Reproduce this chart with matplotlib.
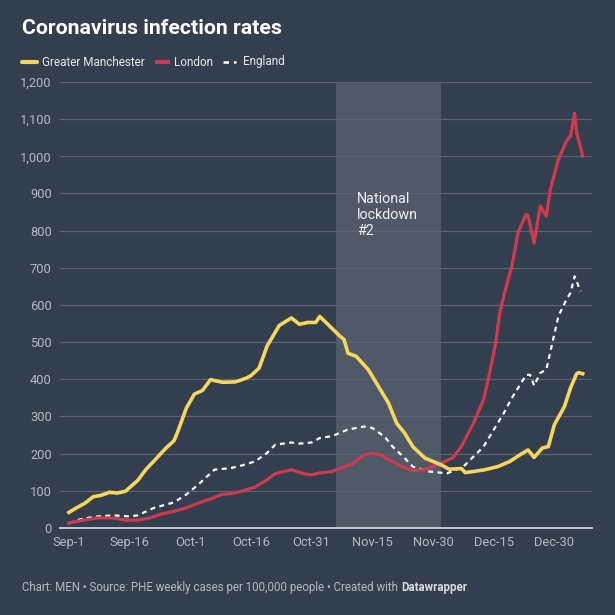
import matplotlib
matplotlib.use("Agg")
import matplotlib.pyplot as plt
import numpy as np
import pandas as pd

plt.rcParams["font.family"] = ["Roboto", "DejaVu Sans"]

START = pd.Timestamp("2020-09-01")

# weekly cases per 100,000 people (day offset from Sep 1)
gm_days = [0, 2, 4, 6, 8, 10, 12, 14, 17, 19, 21, 24, 26, 27, 29, 31, 33, 35, 38, 41,
           42, 44, 45, 47, 49, 52, 55, 57, 59, 61, 62, 64, 67, 68, 69, 71, 74, 75, 79, 81,
           83, 85, 88, 92, 94, 97, 98, 102.5, 106, 109, 111.5, 113.5, 115, 117, 118.5,
           120, 122.5, 124, 125.5, 126, 127]
gm_vals = [42, 55, 67, 84, 88, 96, 94, 99, 128, 157, 180, 215, 235, 262, 322, 360, 370,
           399, 392, 393, 396, 404, 410, 430, 490, 545, 565, 548, 553, 553, 569, 548, 516,
           507, 470, 462, 426, 408, 336, 282, 255, 219, 188, 170, 158, 160, 149, 156, 165,
           179, 197, 210, 190, 215, 219, 278, 327, 377, 415, 418, 415]

ldn_days = [0, 3, 7, 11, 14, 17, 20, 23, 26, 29, 32, 35, 38, 40, 43, 46, 49, 51, 54, 55,
            58, 60, 62, 65, 67, 70, 73, 75, 77, 80, 82, 85, 88, 92, 95, 97, 100, 102.5,
            104, 105.5, 106.5, 108, 109.5, 111, 113, 113.5, 115, 116.5, 118, 119, 121,
            123, 124, 125, 125.5, 127]
ldn_vals = [13, 20, 27, 27, 21, 21, 27, 38, 45, 54, 67, 78, 91, 92, 100, 110, 130, 146,
            154, 157, 146, 143, 148, 152, 160, 172, 197, 201, 197, 179, 167, 154, 157, 174,
            190, 219, 282, 345, 417, 498, 579, 646, 704, 794, 844, 840, 767, 866, 839, 911,
            992, 1041, 1055, 1116, 1064, 1001]

eng_days = [0, 3, 7, 11, 15, 17, 21, 26, 29, 32, 36, 40, 43, 46, 49, 51, 55, 57, 60, 62,
            65, 69, 73, 75, 78, 80, 83, 85, 89, 93.5, 97.5, 100, 102.5, 105, 107.5, 109.5,
            111.5, 113, 114, 115, 116.5, 118, 119.5, 121, 123, 124, 125, 126.5]
eng_vals = [13, 24, 31, 34, 31, 34, 54, 69, 90, 117, 157, 161, 169, 179, 202, 224, 230,
            227, 230, 242, 247, 265, 273, 269, 246, 219, 188, 165, 152, 147, 165, 192, 219,
            264, 309, 350, 385, 412, 412, 383, 417, 426, 498, 570, 615, 633, 677, 637]

lockdown = ["2020-11-06", "2020-12-02"]
lockdown_label = "National\nlockdown\n#2"

tick_dates = ["2020-09-01", "2020-09-16", "2020-10-01", "2020-10-16", "2020-10-31",
              "2020-11-15", "2020-11-30", "2020-12-15", "2020-12-30"]
tick_labels = ["Sep-1", "Sep-16", "Oct-1", "Oct-16", "Oct-31", "Nov-15", "Nov-30",
               "Dec-15", "Dec-30"]

BG = "#333e4e"
GRID = "#596372"
LABEL = "#b4bac2"
YELLOW = "#f6d75c"
RED = "#cf3a4f"


def to_dates(days):
    return START + pd.to_timedelta(days, unit="D")


fig = plt.figure(figsize=(6.15, 6.15), dpi=100, facecolor=BG)
ax = fig.add_axes([0.0976, 0.1415, 0.865, 0.7252])
ax.set_facecolor(BG)

ax.axvspan(pd.Timestamp(lockdown[0]), pd.Timestamp(lockdown[1]),
           color="#4f5968", zorder=0, lw=0)
ax.text(pd.Timestamp(lockdown[0]) + pd.Timedelta(days=5.3), 903, lockdown_label,
        color="#eef0f2", fontsize=10.3, va="top", ha="left", linespacing=1.15)

ax.plot(to_dates(eng_days), eng_vals, color="white", lw=1.6,
        dashes=(2.2, 2.0), zorder=3)
ax.plot(to_dates(ldn_days), ldn_vals, color=RED, lw=2.3, zorder=4,
        solid_joinstyle="round")
ax.plot(to_dates(gm_days), gm_vals, color=YELLOW, lw=2.6, zorder=5,
        solid_joinstyle="round")

ax.set_ylim(0, 1200)
ax.set_xlim(START - pd.Timedelta(days=2.2), START + pd.Timedelta(days=129.3))
ax.set_yticks(np.arange(0, 1201, 100))
ax.set_yticklabels([f"{v:,}" for v in range(0, 1201, 100)])
ax.yaxis.grid(True, color=GRID, lw=0.9)
ax.set_axisbelow(True)
ax.set_xticks([pd.Timestamp(d) for d in tick_dates])
ax.set_xticklabels(tick_labels)
ax.tick_params(axis="both", length=0, colors=LABEL, labelsize=9.3)
ax.tick_params(axis="y", pad=6)
ax.tick_params(axis="x", pad=6)
for s in ["top", "right", "left"]:
    ax.spines[s].set_visible(False)
ax.spines["bottom"].set_color("#c3c8cf")
ax.spines["bottom"].set_linewidth(1.4)
ax.spines["bottom"].set_zorder(6)

fig.text(22 / 615, 1 - 29 / 615, "Coronavirus infection rates", color="white",
         fontsize=15.3, fontweight="bold", va="center", ha="left")

# legend
ly = 1 - 62 / 615
fig.add_artist(plt.Line2D([22 / 615, 37 / 615], [ly, ly], color=YELLOW, lw=3,
                          solid_capstyle="round"))
fig.text(42 / 615, ly, "Greater Manchester", color="#e6e8eb", fontsize=8.5, va="center")
fig.add_artist(plt.Line2D([155 / 615, 170 / 615], [ly, ly], color=RED, lw=3,
                          solid_capstyle="butt"))
fig.text(174 / 615, ly, "London", color="#e6e8eb", fontsize=8.5, va="center")
fig.add_artist(plt.Line2D([223 / 615, 236 / 615], [ly, ly], color="white", lw=1.8,
                          dashes=(2.2, 2.0)))
fig.text(243 / 615, ly, "England", color="#e6e8eb", fontsize=8.5, va="center")

# footer
fy = 1 - 587 / 615
t1 = fig.text(22 / 615, fy, "Chart: MEN \u2022 Source: PHE weekly cases per 100,000 people \u2022 Created with ",
              color="#b4bac2", fontsize=8.3, va="center")
fig.canvas.draw()
bb = t1.get_window_extent()
fig.text(bb.x1 / fig.bbox.width, fy, "Datawrapper", color="#d8dce0", fontsize=8.3,
         fontweight="bold", va="center")

fig.savefig("out.png", dpi=100, facecolor=BG)
